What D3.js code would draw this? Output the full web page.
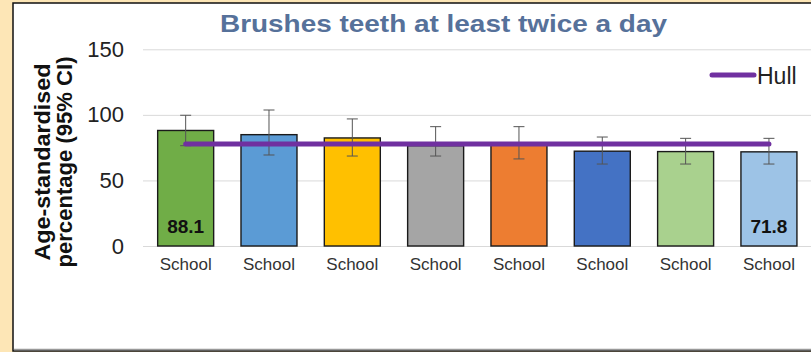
<!DOCTYPE html>
<html>
<head>
<meta charset="utf-8">
<script src="https://cdn.jsdelivr.net/npm/d3@7"></script>
<style>
  body { margin: 0; background: #fde6b6; }
  svg { display: block; font-family: Arial, "Liberation Sans", sans-serif; }
</style>
</head>
<body>
<svg id="chart" width="811" height="352"></svg>
<script>
// chart values
var categories = ["School", "School", "School", "School", "School", "School", "School", "School"];
var values     = [88.1, 84.9, 82.4, 76.5, 76.8, 72.3, 72.0, 71.8];
var ciLower    = [76.5, 69.4, 68.6, 68.6, 66.4, 62.5, 62.5, 62.5];
var ciUpper    = [99.7, 103.7, 96.9, 91.0, 91.0, 83.1, 82.1, 82.1];
var barColors  = ["#70ad47", "#5b9bd5", "#ffc000", "#a5a5a5", "#ed7d31", "#4472c4", "#a9d18e", "#9dc3e6"];
var hullValue  = 77.8;
var yTicks     = [0, 50, 100, 150];
var labelled   = [0, 7];   // bars that show their value

var svg = d3.select("#chart");

// white chart area with frame
svg.append("rect").attr("x", 13).attr("y", 3).attr("width", 800).attr("height", 348)
    .attr("fill", "#fff").attr("stroke", "#111").attr("stroke-width", 1.5);
svg.append("line").attr("x1", 14).attr("x2", 811).attr("y1", 349.5).attr("y2", 349.5)
    .attr("stroke", "#999").attr("stroke-width", 1.5);

var yScale = d3.scaleLinear().domain([0, 150]).range([246, 49.3]);
var xScale = d3.scaleBand().domain(d3.range(categories.length))
    .range([144, 810.6]).paddingInner(0.328).paddingOuter(0.164);

// gridlines
svg.append("g").selectAll("line").data(yTicks).enter().append("line")
    .attr("x1", 143).attr("x2", 811)
    .attr("y1", function(d){ return yScale(d) + 0.5; })
    .attr("y2", function(d){ return yScale(d) + 0.5; })
    .attr("stroke", "#d9d9d9").attr("stroke-width", 1);

// y axis labels
var yAxis = d3.axisLeft(yScale).tickValues(yTicks).tickSize(0).tickPadding(0);
var gy = svg.append("g").attr("transform", "translate(124,0)").call(yAxis);
gy.select(".domain").remove();
gy.selectAll("text").attr("font-size", 22).attr("fill", "#222").attr("font-family", null);

// bars
svg.append("g").selectAll("rect").data(values).enter().append("rect")
    .attr("x", function(d, i){ return xScale(i); })
    .attr("y", function(d){ return yScale(d); })
    .attr("width", xScale.bandwidth())
    .attr("height", function(d){ return yScale(0) - yScale(d); })
    .attr("fill", function(d, i){ return barColors[i]; })
    .attr("stroke", "#1a1a1a").attr("stroke-width", 1.4);

// error bars
var eg = svg.append("g").attr("stroke", "#555").attr("stroke-width", 1);
values.forEach(function(v, i){
    var cx = xScale(i) + xScale.bandwidth() / 2;
    eg.append("line").attr("x1", cx).attr("x2", cx)
        .attr("y1", yScale(ciUpper[i])).attr("y2", yScale(ciLower[i]));
    [ciUpper[i], ciLower[i]].forEach(function(c){
        eg.append("line").attr("x1", cx - 5.5).attr("x2", cx + 5.5)
            .attr("y1", yScale(c)).attr("y2", yScale(c));
    });
});

// Hull line
var hullData = categories.map(function(c, i){ return [i, hullValue]; });
svg.append("path").datum(hullData)
    .attr("fill", "none").attr("stroke", "#7030a0").attr("stroke-width", 5)
    .attr("stroke-linecap", "round")
    .attr("d", d3.line()
        .x(function(d){ return xScale(d[0]) + xScale.bandwidth() / 2; })
        .y(function(d){ return yScale(d[1]); }));

// value labels
svg.append("g").selectAll("text").data(labelled).enter().append("text")
    .attr("x", function(i){ return xScale(i) + xScale.bandwidth() / 2; })
    .attr("y", 233)
    .attr("text-anchor", "middle").attr("font-size", 19).attr("font-weight", "bold")
    .attr("fill", "#111")
    .text(function(i){ return values[i].toFixed(1); });

// x labels
var xAxis = d3.axisBottom(xScale).tickSize(0).tickPadding(0)
    .tickFormat(function(i){ return categories[i]; });
var gx = svg.append("g").attr("transform", "translate(0,258)").call(xAxis);
gx.select(".domain").remove();
gx.selectAll("text").attr("font-size", 17).attr("fill", "#333").attr("font-family", null);

// title
svg.append("text").attr("x", 443.5).attr("y", 32).attr("text-anchor", "middle")
    .attr("font-size", 24).attr("font-weight", "bold").attr("fill", "#56719a")
    .attr("textLength", 447).attr("lengthAdjust", "spacingAndGlyphs")
    .text("Brushes teeth at least twice a day");

// y axis title
var yt = svg.append("text").attr("transform", "translate(0,162) rotate(-90)")
    .attr("text-anchor", "middle").attr("font-size", 22).attr("font-weight", "bold").attr("fill", "#111");
yt.append("tspan").attr("x", 0).attr("y", 50)
    .attr("textLength", 197).attr("lengthAdjust", "spacingAndGlyphs").text("Age-standardised");
yt.append("tspan").attr("x", 0).attr("y", 72)
    .attr("textLength", 211).attr("lengthAdjust", "spacingAndGlyphs").text("percentage (95% CI)");

// legend
svg.append("line").attr("x1", 712).attr("x2", 754).attr("y1", 75).attr("y2", 75)
    .attr("stroke", "#7030a0").attr("stroke-width", 5).attr("stroke-linecap", "round");
svg.append("text").attr("x", 757).attr("y", 84).attr("font-size", 23).attr("fill", "#222")
    .text("Hull");
</script>
</body>
</html>
